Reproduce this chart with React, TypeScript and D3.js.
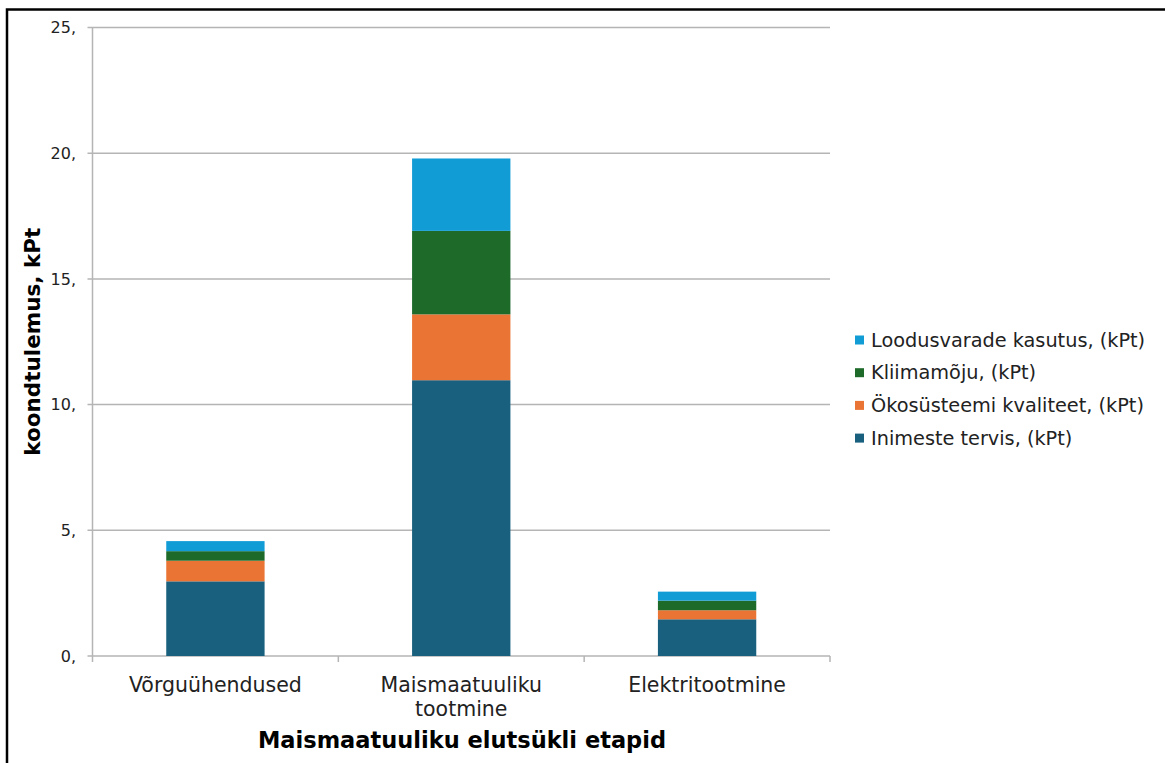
import React from "react";
import * as d3 from "d3";

const categories = ["Võrguühendused", "Maismaatuuliku tootmine", "Elektritootmine"];
const categoryLines = [["Võrguühendused"], ["Maismaatuuliku", "tootmine"], ["Elektritootmine"]];
const seriesNames = [
  "Inimeste tervis, (kPt)",
  "Ökosüsteemi kvaliteet, (kPt)",
  "Kliimamõju, (kPt)",
  "Loodusvarade kasutus, (kPt)",
];
const inimesteTervis = [2.97, 10.97, 1.46];
const okosusteemiKvaliteet = [0.82, 2.62, 0.36];
const kliimamoju = [0.38, 3.32, 0.38];
const loodusvaradeKasutus = [0.40, 2.88, 0.36];
const seriesColors = ["#195f7e", "#e97433", "#1d6a29", "#129cd6"];
const yTicks = [0, 5, 10, 15, 20, 25];
const yTickLabels = ["0,", "5,", "10,", "15,", "20,", "25,"];

export default function App() {
  const W = 1165, H = 763;
  const left = 92.5, right = 830, top = 27.5, bottom = 656;
  const x = d3.scaleBand<string>().domain(categories).range([left, right]).paddingInner(0.6).paddingOuter(0.3);
  const y = d3.scaleLinear().domain([0, 25]).range([bottom, top]);
  const seriesVals = [inimesteTervis, okosusteemiKvaliteet, kliimamoju, loodusvaradeKasutus];
  const table = categories.map((c, i) => {
    const o: any = { cat: c };
    seriesNames.forEach((s, j) => (o[s] = seriesVals[j][i]));
    return o;
  });
  const stack = d3.stack<any>().keys(seriesNames)(table);
  const step = (right - left) / categories.length;
  const font = "'DejaVu Sans', Verdana, sans-serif";
  const legendOrder = [3, 2, 1, 0];

  return (
    <svg width={W} height={H} style={{ position: "absolute", left: 0, top: 0, background: "#fff" }}>
      <rect x={0} y={0} width={W} height={H} fill="#fff" />
      <rect x={7} y={9.5} width={W + 10} height={H + 10} fill="none" stroke="#000" strokeWidth={2.5} />
      {yTicks.map((t, i) => (
        <g key={t}>
          <line x1={left - 5} x2={right} y1={y(t)} y2={y(t)} stroke="#b5b5b5" strokeWidth={1.5} />
          <text x={76} y={y(t)} dy="0.35em" textAnchor="end" fontFamily={font} fontSize={16} fill="#222">
            {yTickLabels[i]}
          </text>
        </g>
      ))}
      <line x1={left} x2={left} y1={top} y2={bottom} stroke="#b5b5b5" strokeWidth={1.5} />
      {d3.range(categories.length + 1).map((i) => (
        <line key={i} x1={left + i * step} x2={left + i * step} y1={bottom} y2={bottom + 6} stroke="#b5b5b5" strokeWidth={1.5} />
      ))}
      {stack.map((s, j) => (
        <g key={s.key} fill={seriesColors[j]}>
          {s.map((d, i) => (
            <rect key={i} x={x(categories[i])} width={x.bandwidth()} y={y(d[1])} height={y(d[0]) - y(d[1])} />
          ))}
        </g>
      ))}
      {categories.map((c, i) => (
        <text key={c} textAnchor="middle" fontFamily={font} fontSize={20.5} fill="#222">
          {categoryLines[i].map((ln, k) => (
            <tspan key={k} x={x(c)! + x.bandwidth() / 2} y={692 + k * 24}>{ln}</tspan>
          ))}
        </text>
      ))}
      <text x={462} y={748} textAnchor="middle" fontFamily={font} fontSize={22.5} fontWeight="bold" fill="#000">
        Maismaatuuliku elutsükli etapid
      </text>
      <text transform={`translate(40,${(top + bottom) / 2}) rotate(-90)`} textAnchor="middle" fontFamily={font} fontSize={21.5} fontWeight="bold" fill="#000">
        koondtulemus, kPt
      </text>
      {legendOrder.map((j, k) => (
        <g key={j} transform={`translate(855,${340 + k * 32.7})`}>
          <rect x={0} y={-4.5} width={9} height={9} fill={seriesColors[j]} />
          <text x={16} y={0} dy="0.35em" fontFamily={font} fontSize={19.3} fill="#222">
            {seriesNames[j]}
          </text>
        </g>
      ))}
    </svg>
  );
}
